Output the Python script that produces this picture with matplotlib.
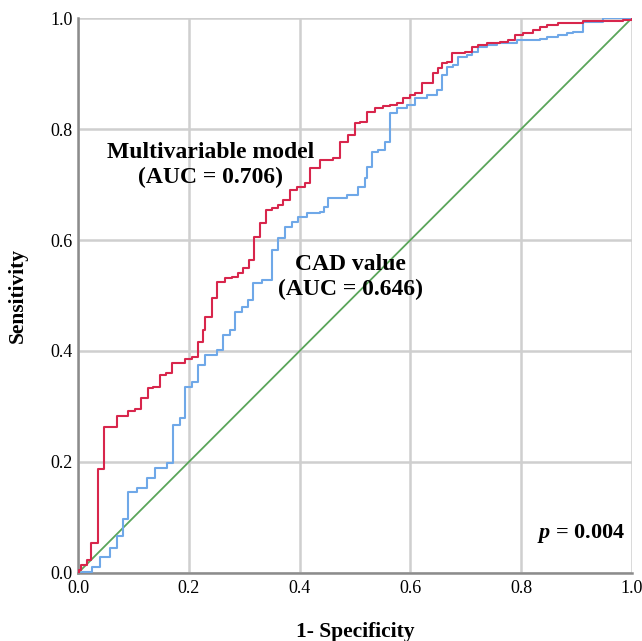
import matplotlib
matplotlib.use("Agg")
import matplotlib.pyplot as plt

# ROC points (1 - specificity, sensitivity)
model_fpr = [0.0, 0.002, 0.005, 0.016, 0.023, 0.036, 0.047, 0.070, 0.090, 0.103,
             0.114, 0.126, 0.135, 0.148, 0.159, 0.170, 0.193, 0.206, 0.217, 0.226,
             0.229, 0.242, 0.251, 0.265, 0.278, 0.289, 0.298, 0.309, 0.318, 0.329,
             0.339, 0.350, 0.361, 0.370, 0.383, 0.395, 0.410, 0.419, 0.437, 0.460,
             0.473, 0.487, 0.500, 0.509, 0.522, 0.536, 0.551, 0.563, 0.576, 0.587,
             0.599, 0.608, 0.621, 0.641, 0.650, 0.657, 0.666, 0.675, 0.699, 0.711,
             0.722, 0.738, 0.762, 0.776, 0.789, 0.803, 0.821, 0.834, 0.847, 0.866,
             0.912, 0.984, 1.0]
model_tpr = [0.0, 0.005, 0.014, 0.023, 0.054, 0.187, 0.263, 0.283, 0.292, 0.295,
             0.315, 0.333, 0.335, 0.357, 0.360, 0.378, 0.386, 0.389, 0.416, 0.438,
             0.461, 0.495, 0.524, 0.532, 0.533, 0.541, 0.550, 0.564, 0.605, 0.631,
             0.654, 0.658, 0.663, 0.672, 0.690, 0.695, 0.703, 0.730, 0.744, 0.748,
             0.777, 0.789, 0.811, 0.813, 0.831, 0.838, 0.841, 0.843, 0.847, 0.856,
             0.861, 0.865, 0.883, 0.901, 0.910, 0.919, 0.921, 0.937, 0.939, 0.948,
             0.951, 0.955, 0.957, 0.960, 0.969, 0.973, 0.978, 0.984, 0.987, 0.991,
             0.995, 0.996, 1.0]

cad_fpr = [0.0, 0.007, 0.025, 0.040, 0.058, 0.070, 0.081, 0.090, 0.106, 0.125,
           0.139, 0.161, 0.171, 0.184, 0.193, 0.206, 0.217, 0.229, 0.251, 0.262,
           0.274, 0.283, 0.296, 0.307, 0.316, 0.332, 0.350, 0.361, 0.374, 0.386,
           0.397, 0.413, 0.437, 0.444, 0.451, 0.486, 0.505, 0.518, 0.522, 0.531,
           0.542, 0.554, 0.563, 0.576, 0.594, 0.608, 0.630, 0.648, 0.657, 0.666,
           0.677, 0.686, 0.702, 0.711, 0.722, 0.738, 0.756, 0.792, 0.834, 0.847,
           0.866, 0.883, 0.894, 0.912, 0.948, 1.0]
cad_tpr = [0.0, 0.002, 0.011, 0.029, 0.045, 0.067, 0.097, 0.146, 0.153, 0.171,
           0.189, 0.198, 0.267, 0.279, 0.335, 0.344, 0.375, 0.393, 0.402, 0.429,
           0.438, 0.470, 0.479, 0.492, 0.523, 0.528, 0.582, 0.604, 0.623, 0.632,
           0.641, 0.649, 0.650, 0.659, 0.676, 0.681, 0.695, 0.712, 0.732, 0.759,
           0.762, 0.777, 0.829, 0.838, 0.843, 0.856, 0.861, 0.870, 0.897, 0.912,
           0.915, 0.930, 0.933, 0.939, 0.948, 0.951, 0.955, 0.960, 0.962, 0.966,
           0.969, 0.973, 0.975, 0.993, 1.0, 1.0]

ticks = [0.0, 0.2, 0.4, 0.6, 0.8, 1.0]
tick_labels = ["0.0", "0.2", "0.4", "0.6", "0.8", "1.0"]

serif = ["Liberation Serif", "DejaVu Serif"]
plt.rcParams["mathtext.fontset"] = "custom"
plt.rcParams["mathtext.it"] = "Liberation Serif:italic:bold"
plt.rcParams["mathtext.rm"] = "Liberation Serif:bold"

fig = plt.figure(figsize=(6.42, 6.41), dpi=100)
ax = fig.add_axes([0.1215, 0.1061, 0.8629, 0.8658])

ax.plot([0, 1], [0, 1], color="#5aa55a", lw=1.3, zorder=2)
ax.plot(cad_fpr, cad_tpr, drawstyle="steps-post", color="#6fa8e8", lw=1.5, zorder=3)
ax.plot(model_fpr, model_tpr, drawstyle="steps-post", color="#d8264c", lw=1.5, zorder=4)

ax.set_xlim(0, 1)
ax.set_ylim(0, 1)
ax.set_xticks(ticks)
ax.set_yticks(ticks)
ax.set_xticklabels(tick_labels, family=serif, fontsize=13)
ax.set_yticklabels(tick_labels, family=serif, fontsize=13)
ax.tick_params(axis="x", length=0, pad=5)
ax.tick_params(axis="y", length=0, pad=4)
ax.grid(True, color="#cfcfcf", lw=1.8, zorder=0)
ax.set_axisbelow(True)

for s in ["top", "right"]:
    ax.spines[s].set_visible(False)
for s in ["left", "bottom"]:
    ax.spines[s].set_color("#8c8c8c")
    ax.spines[s].set_linewidth(1.8)

ax.set_xlabel("1- Specificity", family=serif, fontsize=15.5, fontweight="bold", labelpad=18)
ax.set_ylabel("Sensitivity", family=serif, fontsize=15.5, fontweight="bold", labelpad=16)

ax.text(0.239, 0.735, "Multivariable model\n(AUC = 0.706)", ha="center", va="center",
        family=serif, fontsize=17, fontweight="bold", linespacing=1.25)
ax.text(0.491, 0.533, "CAD value\n(AUC = 0.646)", ha="center", va="center",
        family=serif, fontsize=17, fontweight="bold", linespacing=1.25)
ax.text(0.987, 0.072, r"$p$ = 0.004", ha="right", va="center",
        family=serif, fontsize=16, fontweight="bold")

fig.savefig("out.png", dpi=100)
